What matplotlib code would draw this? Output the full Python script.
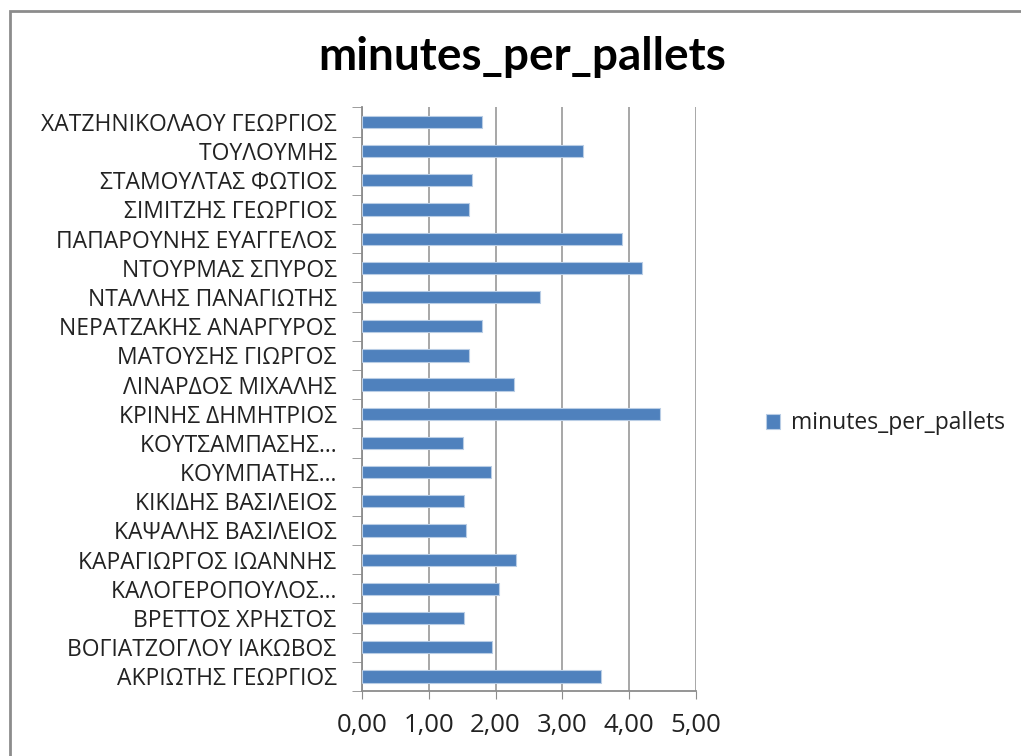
import matplotlib.pyplot as plt
from matplotlib.patches import Rectangle

# names listed bottom-to-top, as the chart draws them
names = [
    "ΑΚΡΙΩΤΗΣ ΓΕΩΡΓΙΟΣ",
    "ΒΟΓΙΑΤΖΟΓΛΟΥ ΙΑΚΩΒΟΣ",
    "ΒΡΕΤΤΟΣ ΧΡΗΣΤΟΣ",
    "ΚΑΛΟΓΕΡΟΠΟΥΛΟΣ...",
    "ΚΑΡΑΓΙΩΡΓΟΣ ΙΩΑΝΝΗΣ",
    "ΚΑΨΑΛΗΣ ΒΑΣΙΛΕΙΟΣ",
    "ΚΙΚΙΔΗΣ ΒΑΣΙΛΕΙΟΣ",
    "ΚΟΥΜΠΑΤΗΣ...",
    "ΚΟΥΤΣΑΜΠΑΣΗΣ...",
    "ΚΡΙΝΗΣ ΔΗΜΗΤΡΙΟΣ",
    "ΛΙΝΑΡΔΟΣ ΜΙΧΑΛΗΣ",
    "ΜΑΤΟΥΣΗΣ ΓΙΩΡΓΟΣ",
    "ΝΕΡΑΤΖΑΚΗΣ ΑΝΑΡΓΥΡΟΣ",
    "ΝΤΑΛΛΗΣ ΠΑΝΑΓΙΩΤΗΣ",
    "ΝΤΟΥΡΜΑΣ ΣΠΥΡΟΣ",
    "ΠΑΠΑΡΟΥΝΗΣ ΕΥΑΓΓΕΛΟΣ",
    "ΣΙΜΙΤΖΗΣ ΓΕΩΡΓΙΟΣ",
    "ΣΤΑΜΟΥΛΤΑΣ ΦΩΤΙΟΣ",
    "ΤΟΥΛΟΥΜΗΣ",
    "ΧΑΤΖΗΝΙΚΟΛΑΟΥ ΓΕΩΡΓΙΟΣ",
]
minutes = [3.58, 1.95, 1.52, 2.05, 2.30, 1.56, 1.52, 1.93, 1.51, 4.46,
           2.27, 1.60, 1.79, 2.67, 4.19, 3.89, 1.60, 1.64, 3.31, 1.79]
xticks = [0, 1, 2, 3, 4, 5]
xticklabels = ["0,00", "1,00", "2,00", "3,00", "4,00", "5,00"]

plt.rcParams["font.family"] = ["Open Sans", "DejaVu Sans"]

fig = plt.figure(figsize=(10.21, 7.56), dpi=100)
ax = fig.add_axes([0.3546, 0.086, 0.327, 0.772])

pos = list(range(len(names)))
ax.barh(pos, minutes, height=0.42, color="#4f81bd", edgecolor="#b9cde5",
        linewidth=0.8, label="minutes_per_pallets", zorder=3)

ax.set_xlim(0, 5)
ax.set_ylim(-0.5, len(names) - 0.5)
ax.set_xticks(xticks)
ax.set_xticklabels(xticklabels, fontsize=18.5, color="#222222")
ax.set_yticks(pos)
ax.set_yticklabels([n + " " for n in names], fontsize=16.5, color="#222222")
ax.tick_params(axis="y", length=0, pad=14)
ax.tick_params(axis="x", length=6, color="#8c8c8c", pad=10)

# category boundary ticks, Excel style
ax.set_yticks([p - 0.5 for p in pos] + [len(names) - 0.5], minor=True)
ax.tick_params(axis="y", which="minor", length=7, color="#8c8c8c")

ax.grid(axis="x", color="#a0a0a0", linewidth=1.3, zorder=0)
for s in ["top", "right"]:
    ax.spines[s].set_visible(False)
for s in ["left", "bottom"]:
    ax.spines[s].set_color("#8c8c8c")
    ax.spines[s].set_linewidth(1.3)

fig.text(0.511, 0.925, "minutes_per_pallets", ha="center", va="center",
         fontsize=33, fontweight="bold", family=["Lato", "Open Sans", "DejaVu Sans"])

leg = fig.legend(loc="center left", bbox_to_anchor=(0.73, 0.44), frameon=False,
                 fontsize=16.5, handlelength=0.6, handleheight=0.6,
                 handletextpad=0.5)
for t in leg.get_texts():
    t.set_color("#222222")

# outer chart border (runs off the right and bottom edges)
fig.patches.append(Rectangle((10 / 1021, -0.05), 1.1, 1 - 11 / 756 + 0.05,
                             transform=fig.transFigure, fill=False,
                             edgecolor="#8c8c8c", linewidth=2))

fig.savefig("out.png", dpi=100, facecolor="white")
